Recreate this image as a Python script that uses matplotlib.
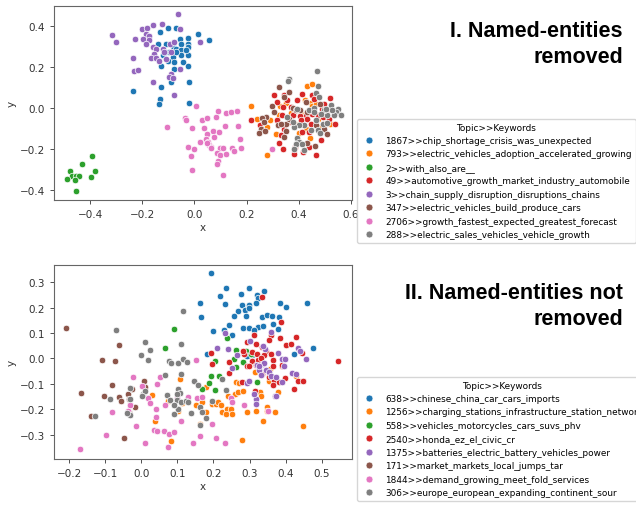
import matplotlib.pyplot as plt
from matplotlib.lines import Line2D
import numpy as np

# ---------------- Panel I: named-entities removed ----------------
top_labels = ['1867>>chip_shortage_crisis_was_unexpected',
              '793>>electric_vehicles_adoption_accelerated_growing',
              '2>>with_also_are__',
              '49>>automotive_growth_market_industry_automobile',
              '3>>chain_supply_disruption_disruptions_chains',
              '347>>electric_vehicles_build_produce_cars',
              '2706>>growth_fastest_expected_greatest_forecast',
              '288>>electric_sales_vehicles_vehicle_growth']

top_1867 = [(-0.13, 0.37), (-0.10, 0.39), (-0.07, 0.39), (0.013, 0.36), (0.055, 0.33), (-0.023, 0.34),
            (-0.023, 0.31), (-0.057, 0.336), (-0.05, 0.31), (-0.11, 0.31), (-0.14, 0.31), (-0.083, 0.30),
            (-0.07, 0.287), (-0.05, 0.28), (-0.096, 0.27), (-0.12, 0.255), (-0.083, 0.247), (-0.05, 0.255),
            (-0.023, 0.255), (-0.10, 0.23), (-0.077, 0.222), (-0.045, 0.222), (-0.128, 0.206), (-0.023, 0.206),
            (-0.077, 0.19), (-0.023, 0.295), (-0.032, 0.28), (-0.128, 0.10), (-0.09, 0.125), (-0.02, 0.125),
            (-0.13, 0.044), (-0.137, 0.02), (-0.02, 0.024), (-0.236, 0.08), (-0.07, 0.27)]
top_793 = [(0.215, 0.007), (0.238, -0.053), (0.290, -0.061), (0.279, -0.094), (0.311, -0.126),
           (0.277, -0.228), (0.433, 0.108), (0.350, 0.023), (0.328, 0.011), (0.424, 0.039), (0.446, 0.023),
           (0.450, 0.007), (0.408, -0.029), (0.401, -0.081), (0.474, -0.053), (0.481, -0.094), (0.520, -0.081),
           (0.444, -0.147), (0.382, -0.081), (0.399, -0.123), (0.324, -0.034), (0.369, -0.026), (0.497, -0.029),
           (0.427, -0.102), (0.465, 0.020), (0.452, 0.117)]
top_2 = [(-0.394, -0.236), (-0.432, -0.275), (-0.478, -0.307), (-0.381, -0.309), (-0.468, -0.332),
         (-0.454, -0.332), (-0.442, -0.333), (-0.488, -0.346), (-0.456, -0.351), (-0.397, -0.336),
         (-0.453, -0.403)]
top_49 = [(0.305, 0.063), (0.344, 0.060), (0.354, 0.036), (0.315, 0.028), (0.341, 0.003), (0.369, 0.003),
          (0.392, 0.036), (0.414, 0.065), (0.449, 0.060), (0.459, 0.044), (0.520, 0.049), (0.497, 0.020),
          (0.488, -0.005), (0.452, -0.029), (0.427, -0.037), (0.405, -0.042), (0.376, -0.037), (0.337, -0.037),
          (0.318, -0.061), (0.215, -0.058), (0.250, -0.083), (0.363, -0.070), (0.433, -0.053), (0.408, -0.061),
          (0.446, -0.078), (0.491, -0.045), (0.540, -0.078), (0.414, -0.118), (0.440, -0.118), (0.485, -0.158),
          (0.324, -0.170), (0.341, -0.199), (0.386, -0.191), (0.382, -0.223), (0.418, -0.215), (0.440, -0.191),
          (0.465, -0.231), (0.510, -0.010), (0.517, -0.053), (0.472, -0.034), (0.344, -0.102), (0.331, -0.134)]
top_3 = [(-0.064, 0.455), (-0.315, 0.355), (-0.30, 0.32), (-0.226, 0.336), (-0.20, 0.385), (-0.18, 0.388),
         (-0.16, 0.404), (-0.125, 0.41), (-0.186, 0.36), (-0.173, 0.352), (-0.196, 0.336), (-0.175, 0.328),
         (-0.186, 0.31), (-0.16, 0.295), (-0.147, 0.287), (-0.153, 0.263), (-0.12, 0.287), (-0.115, 0.274),
         (-0.093, 0.31), (-0.077, 0.32), (-0.057, 0.385), (0.02, 0.323), (-0.234, 0.242), (-0.166, 0.242),
         (-0.147, 0.242), (-0.233, 0.177), (-0.218, 0.185), (-0.16, 0.125), (-0.09, 0.166), (-0.096, 0.15),
         (-0.083, 0.144), (-0.057, 0.19), (-0.08, 0.06), (-0.11, 0.238), (-0.134, 0.23), (-0.09, 0.27)]
top_347 = [(0.324, 0.100), (0.363, 0.076), (0.344, 0.052), (0.296, 0.007), (0.273, -0.045), (0.258, -0.049),
           (0.267, -0.070), (0.254, -0.102), (0.247, -0.123), (0.270, -0.113), (0.350, -0.113), (0.376, 0.000),
           (0.388, -0.013), (0.405, -0.013), (0.427, 0.027), (0.433, -0.021), (0.465, -0.086), (0.497, -0.102),
           (0.510, -0.126), (0.431, -0.172), (0.461, -0.186), (0.350, -0.078), (0.322, -0.086), (0.305, -0.021),
           (0.363, -0.053), (0.482, 0.020), (0.344, -0.142), (0.331, -0.078)]
top_2706 = [(0.008, 0.010), (-0.036, -0.050), (-0.032, -0.061), (-0.106, -0.094), (-0.008, -0.097),
            (0.028, -0.058), (0.050, -0.050), (0.082, -0.044), (0.090, -0.016), (0.122, -0.026), (0.142, -0.021),
            (0.165, -0.014), (0.119, -0.087), (0.167, -0.087), (0.038, -0.099), (0.073, -0.112), (0.095, -0.118),
            (0.047, -0.126), (0.046, -0.154), (0.054, -0.167), (0.022, -0.167), (0.056, -0.183), (0.064, -0.191),
            (-0.026, -0.191), (0.000, -0.202), (0.099, -0.194), (0.109, -0.196), (0.145, -0.194), (0.176, -0.152),
            (0.178, -0.197), (0.151, -0.209), (0.086, -0.220), (0.097, -0.231), (0.122, -0.226), (-0.013, -0.236),
            (0.090, -0.257), (0.087, -0.273), (-0.010, -0.301), (0.109, -0.325), (0.049, -0.173), (0.077, -0.142),
            (0.062, -0.196), (0.298, -0.199)]
top_288 = [(0.469, 0.181), (0.363, 0.141), (0.360, 0.133), (0.472, 0.108), (0.465, 0.071), (0.478, 0.052),
           (0.523, 0.015), (0.549, -0.005), (0.542, -0.021), (0.561, -0.037), (0.536, -0.037), (0.529, -0.013),
           (0.508, -0.037), (0.497, -0.013), (0.485, -0.032), (0.465, -0.061), (0.491, -0.078), (0.472, -0.107),
           (0.446, -0.110), (0.421, -0.086), (0.401, -0.086), (0.382, -0.094), (0.376, -0.070), (0.395, -0.145),
           (0.401, -0.167), (0.388, -0.175), (0.414, -0.175), (0.382, -0.199), (0.420, -0.204), (0.504, -0.005),
           (0.440, -0.010), (0.459, -0.002), (0.395, -0.005), (0.356, -0.045), (0.508, -0.074), (0.459, -0.021),
           (0.482, -0.123)]

# ---------------- Panel II: named-entities not removed ----------------
bot_labels = ['638>>chinese_china_car_cars_imports',
              '1256>>charging_stations_infrastructure_station_network',
              '558>>vehicles_motorcycles_cars_suvs_phv',
              '2540>>honda_ez_el_civic_cr',
              '1375>>batteries_electric_battery_vehicles_power',
              '171>>market_markets_local_jumps_tar',
              '1844>>demand_growing_meet_fold_services',
              '306>>europe_european_expanding_continent_sour']

bot_638 = [(0.194, 0.336), (0.235, 0.277), (0.298, 0.277), (0.218, 0.245), (0.275, 0.253), (0.340, 0.265),
           (0.320, 0.248), (0.323, 0.238), (0.317, 0.219), (0.162, 0.220), (0.231, 0.213), (0.280, 0.209),
           (0.299, 0.211), (0.166, 0.165), (0.384, 0.218), (0.400, 0.202), (0.458, 0.219), (0.268, 0.186),
           (0.287, 0.189), (0.299, 0.198), (0.256, 0.167), (0.290, 0.167), (0.335, 0.163), (0.348, 0.172),
           (0.361, 0.167), (0.382, 0.163), (0.365, 0.136), (0.243, 0.133), (0.283, 0.121), (0.299, 0.121),
           (0.324, 0.123), (0.338, 0.126), (0.379, 0.115), (0.200, 0.108), (0.229, 0.110), (0.252, 0.094),
           (0.312, 0.113), (0.423, 0.018), (0.477, 0.043), (0.181, 0.016), (0.300, 0.012), (0.294, 0.009),
           (0.308, 0.014)]
bot_1256 = [(0.106, -0.080), (0.180, -0.113), (0.114, -0.176), (0.103, -0.205), (0.151, -0.185), (0.167, -0.172),
            (0.178, -0.211), (0.162, -0.260), (0.082, -0.327), (0.197, -0.178), (0.206, -0.178), (0.213, -0.172),
            (0.220, -0.185), (0.225, -0.209), (0.238, -0.201), (0.248, -0.201), (0.234, -0.218), (0.250, -0.218),
            (0.241, -0.146), (0.260, -0.139), (0.269, -0.133), (0.282, -0.129), (0.262, -0.093), (0.271, -0.096),
            (0.315, -0.054), (0.356, -0.043), (0.354, -0.087), (0.328, -0.133), (0.331, -0.146), (0.380, -0.133),
            (0.292, -0.209), (0.319, -0.205), (0.347, -0.192), (0.349, -0.205), (0.371, -0.211), (0.337, -0.248),
            (0.449, -0.265), (0.280, -0.323), (0.428, -0.070), (0.029, -0.142), (0.074, -0.169), (0.038, -0.248)]
bot_558 = [(0.091, 0.117), (0.067, 0.041), (0.238, 0.081), (0.263, 0.034), (0.289, 0.028), (0.303, 0.018),
           (0.257, -0.001), (0.283, -0.014), (0.204, -0.012), (0.262, -0.034), (0.192, -0.070), (0.215, -0.070),
           (0.188, -0.096), (0.169, -0.122), (0.203, -0.126), (0.322, -0.091)]
bot_2540 = [(0.334, 0.241), (0.388, 0.143), (0.359, 0.093), (0.354, 0.073), (0.384, 0.079), (0.428, 0.084),
            (0.400, 0.054), (0.414, 0.055), (0.445, 0.021), (0.545, -0.009), (0.312, 0.094), (0.317, 0.058),
            (0.294, 0.064), (0.334, 0.045), (0.192, 0.022), (0.308, 0.025), (0.322, 0.018), (0.345, 0.029),
            (0.359, 0.018), (0.365, -0.008), (0.323, -0.008), (0.243, -0.014), (0.197, -0.021), (0.294, -0.028),
            (0.389, -0.028), (0.285, 0.018), (0.340, 0.012), (0.331, 0.003), (0.308, -0.010), (0.283, 0.029),
            (0.243, -0.056), (0.335, -0.060), (0.354, -0.073), (0.368, -0.087), (0.280, -0.091), (0.315, -0.129),
            (0.382, -0.093), (0.433, -0.087), (0.448, -0.088), (0.423, -0.119), (0.397, -0.077), (0.366, -0.106),
            (0.365, -0.031), (0.391, -0.025), (0.299, -0.030), (0.317, -0.025)]
bot_1375 = [(0.231, 0.100), (0.301, 0.068), (0.343, 0.038), (0.360, 0.104), (0.211, 0.041), (0.240, 0.038),
            (0.337, 0.049), (0.380, 0.021), (0.389, -0.001), (0.397, -0.004), (0.435, 0.042), (0.440, 0.029),
            (0.456, -0.004), (0.266, 0.012), (0.322, -0.025), (0.337, -0.020), (0.252, -0.037), (0.294, -0.096),
            (0.299, -0.088), (0.340, -0.017), (0.326, -0.047), (0.345, -0.047), (0.354, -0.054), (0.359, -0.070),
            (0.331, -0.067), (0.372, -0.073), (0.391, -0.093), (0.417, -0.058), (0.430, -0.060), (0.317, -0.159),
            (0.319, -0.178), (0.312, -0.139), (0.371, -0.146), (0.374, -0.148), (0.326, -0.030), (0.396, -0.030)]
bot_171 = [(-0.208, 0.121), (-0.063, 0.052), (-0.108, -0.007), (-0.072, -0.010), (-0.166, -0.138),
           (-0.104, -0.148), (-0.080, -0.104), (-0.062, -0.151), (-0.055, -0.167), (-0.038, -0.139),
           (-0.026, -0.122), (-0.033, -0.161), (0.008, -0.088), (0.009, -0.114), (-0.017, -0.193),
           (-0.032, -0.185), (-0.034, -0.211), (-0.140, -0.227), (-0.048, -0.314)]
bot_1844 = [(0.152, -0.008), (-0.023, -0.073), (0.053, -0.073), (0.003, -0.109), (0.043, -0.100), (0.018, -0.156),
            (0.023, -0.175), (-0.030, -0.185), (-0.037, -0.205), (0.042, -0.201), (0.040, -0.231), (0.067, -0.182),
            (0.099, -0.156), (0.109, -0.247), (0.129, -0.152), (0.154, -0.156), (0.169, -0.152), (-0.080, -0.211),
            (-0.014, -0.266), (-0.099, -0.303), (-0.169, -0.358), (0.010, -0.332), (0.034, -0.283), (0.043, -0.285),
            (0.062, -0.287), (0.076, -0.299), (0.091, -0.290), (0.074, -0.349), (0.143, -0.333), (0.162, -0.307),
            (0.248, -0.156), (0.250, -0.172), (0.285, -0.182), (0.352, -0.205), (0.195, -0.257), (0.206, -0.314),
            (0.232, -0.332)]
bot_306 = [(0.116, 0.185), (-0.071, 0.110), (0.009, 0.066), (0.025, 0.035), (-0.001, 0.014), (0.018, -0.008),
           (0.111, 0.058), (0.077, -0.010), (0.083, -0.017), (0.102, -0.017), (0.116, -0.001), (0.128, -0.014),
           (0.067, -0.067), (0.111, -0.060), (0.145, -0.087), (0.158, -0.104), (0.103, -0.122), (0.106, -0.135),
           (0.100, -0.139), (0.072, -0.143), (0.080, -0.165), (0.099, -0.163), (0.111, -0.172), (0.090, -0.218),
           (0.103, -0.201), (0.123, -0.169), (0.129, -0.172), (0.139, -0.214), (0.162, -0.192), (0.162, -0.261),
           (-0.030, -0.117), (0.005, -0.139), (0.010, -0.130), (0.001, -0.148), (-0.030, -0.159), (-0.032, -0.224),
           (-0.040, -0.215), (-0.127, -0.227), (-0.088, -0.159), (0.180, -0.235), (0.234, -0.126), (0.225, -0.080),
           (0.169, -0.211), (0.197, -0.169), (0.091, -0.185)]

top_groups = [top_1867, top_793, top_2, top_49, top_3, top_347, top_2706, top_288]
bot_groups = [bot_638, bot_1256, bot_558, bot_2540, bot_1375, bot_171, bot_1844, bot_306]

colors = ['#1f77b4', '#ff7f0e', '#2ca02c', '#d62728', '#9467bd', '#8c564b', '#e377c2', '#7f7f7f']

fig = plt.figure(figsize=(6.36, 5.10), dpi=100)
ax1 = fig.add_axes([0.0849, 0.6059, 0.4686, 0.3804])
ax2 = fig.add_axes([0.0849, 0.0980, 0.4686, 0.3810])


def draw_panel(ax, groups, labels, xlim, ylim, xticks, yticks, legend_top):
    for pts, c in zip(groups, colors):
        arr = np.array(pts)
        ax.scatter(arr[:, 0], arr[:, 1], s=22, color=c, edgecolor='white', linewidth=0.5, zorder=2)
    ax.set_xlim(*xlim)
    ax.set_ylim(*ylim)
    ax.set_xticks(xticks)
    ax.set_yticks(yticks)
    ax.tick_params(labelsize=7.5, colors='#333333', length=3, width=0.6)
    for sp in ax.spines.values():
        sp.set_color('#666666')
        sp.set_linewidth(0.8)
    ax.set_xlabel('x', fontsize=7.5, color='#333333', labelpad=2)
    ax.set_ylabel('y', fontsize=7.5, color='#333333', labelpad=2)
    handles = [Line2D([], [], marker='o', linestyle='', markersize=5, markerfacecolor=c,
                      markeredgecolor='white', markeredgewidth=0.5) for c in colors]
    fig.legend(handles, labels, title='Topic>>Keywords', loc='upper left',
               bbox_to_anchor=(357 / 636, 1 - legend_top / 510), fontsize=6.4, title_fontsize=6.4,
               handletextpad=0.8, borderpad=0.4, borderaxespad=0, edgecolor='#cccccc')


draw_panel(ax1, top_groups, top_labels, (-0.538, 0.604), (-0.449, 0.496),
           np.arange(-0.4, 0.61, 0.2), np.arange(-0.4, 0.41, 0.2), 120)
draw_panel(ax2, bot_groups, bot_labels, (-0.242, 0.584), (-0.396, 0.369),
           np.arange(-0.2, 0.51, 0.1), np.arange(-0.3, 0.31, 0.1), 378)

title_kw = dict(ha='right', va='baseline', fontsize=15.5, fontweight='bold',
                family=['Liberation Sans', 'DejaVu Sans'], color='black')
fig.text(623 / 636, 1 - 36.7 / 510, 'I. Named-entities', **title_kw)
fig.text(623 / 636, 1 - 63 / 510, 'removed', **title_kw)
fig.text(623 / 636, 1 - 299 / 510, 'II. Named-entities not', **title_kw)
fig.text(623 / 636, 1 - 325 / 510, 'removed', **title_kw)

fig.savefig('out.png', dpi=100)
